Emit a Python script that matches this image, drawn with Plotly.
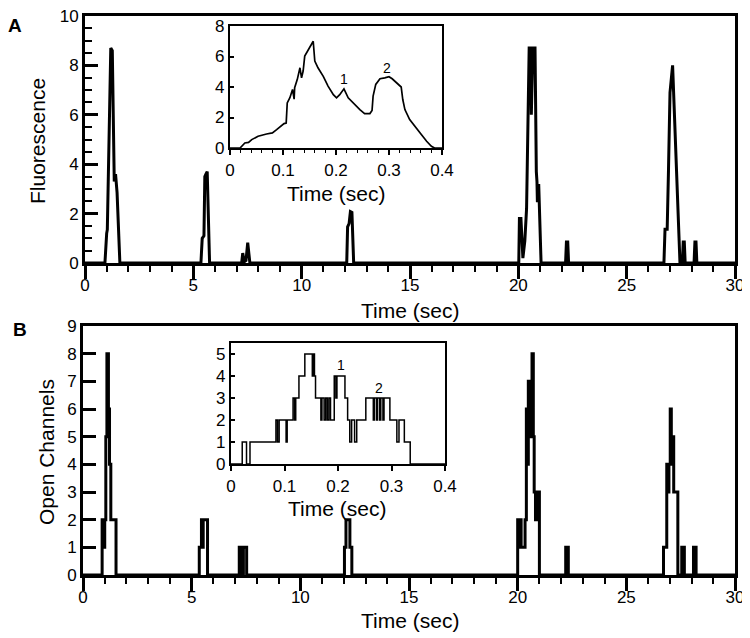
import plotly.graph_objects as go

# ---------------- data ----------------
# Panel A: fluorescence trace (time in s, fluorescence)
fluo_t = [0, 0.92, 1.0, 1.03, 1.19, 1.26, 1.35, 1.41, 1.48, 1.61,
          5.35, 5.41, 5.49, 5.53, 5.58, 5.64, 5.75,
          7.23, 7.28, 7.35, 7.43, 7.51, 7.61,
          12.08, 12.12, 12.19, 12.25, 12.32, 12.4,
          20.02, 20.05, 20.12, 20.21, 20.3, 20.38, 20.5, 20.58, 20.6, 20.67, 20.77,
          20.83, 20.86, 20.88, 20.94, 21.05,
          22.18, 22.22, 22.28, 22.32,
          26.72, 26.77, 26.87, 26.93, 27.0, 27.12, 27.46,
          27.57, 27.61, 27.66, 27.7,
          28.11, 28.15, 28.2, 28.24, 30]
fluo_v = [0, 0, 1.2, 1.35, 8.7, 8.6, 3.3, 3.6, 2.85, 0,
          0, 1.0, 1.1, 3.5, 3.6, 3.7, 0,
          0, 0.4, 0.05, 0.1, 0.82, 0,
          0, 1.46, 1.6, 2.08, 2.05, 0,
          0, 1.8, 1.8, 0.2, 0.9, 2.2, 8.7, 8.7, 6.0, 8.7, 8.7,
          3.7, 3.3, 2.46, 3.2, 0,
          0, 0.85, 0.85, 0,
          0, 1.37, 1.37, 3.73, 6.9, 8.0, 0,
          0, 0.85, 0.85, 0,
          0, 0.85, 0.85, 0, 0]

# Panel A inset: zoom of first event (time in s)
ins_a_t = [0, 0.019, 0.028, 0.035, 0.041, 0.053, 0.069, 0.080, 0.088, 0.097,
           0.102, 0.106, 0.108, 0.113, 0.118, 0.121, 0.122, 0.127, 0.132,
           0.135, 0.138, 0.141, 0.148, 0.154, 0.157, 0.160, 0.166, 0.176,
           0.185, 0.195, 0.201, 0.207, 0.215, 0.223, 0.232, 0.245, 0.254,
           0.264, 0.268, 0.270, 0.275, 0.283, 0.292, 0.300, 0.306, 0.314,
           0.323, 0.326, 0.330, 0.339, 0.352, 0.361, 0.371, 0.380, 0.386, 0.4]
ins_a_v = [0, 0, 0.33, 0.37, 0.55, 0.77, 0.92, 0.99, 1.2, 1.43,
           1.6, 1.64, 2.96, 3.3, 3.84, 3.2, 3.95, 4.5, 5.26,
           4.6, 5.05, 6.03, 6.47, 6.8, 7.0, 5.7, 5.26, 4.7,
           4.06, 3.5, 3.29, 3.5, 3.88, 3.29, 2.96, 2.52, 2.26,
           2.26, 2.46, 3.4, 4.17, 4.54, 4.6, 4.67, 4.54, 4.28,
           4.0, 3.18, 2.52, 1.86, 1.32, 0.88, 0.44, 0.11, 0, 0]

# Panel B: number of open channels (step trace)
chan_t = [0, 0.88, 0.95, 1.0, 1.05, 1.1, 1.17, 1.22, 1.28, 1.52,
          5.35, 5.45, 5.5, 5.53, 5.73,
          7.19, 7.32, 7.38, 7.53,
          12.03, 12.1, 12.28, 12.37,
          20.0, 20.1, 20.13, 20.16, 20.34, 20.4, 20.46, 20.49, 20.55, 20.6, 20.66,
          20.72, 20.76, 20.82, 20.86, 20.93, 20.96, 21.0,
          22.21, 22.33,
          26.71, 26.86, 26.92, 26.96, 27.02, 27.07, 27.1, 27.13, 27.18, 27.37,
          27.55, 27.67, 28.09, 28.21, 30]
chan_n = [0, 2, 1, 2, 5, 8, 6, 4, 2, 0,
          1, 2, 1, 2, 0,
          1, 0, 1, 0,
          1, 2, 1, 0,
          2, 1, 2, 1, 2, 6, 4, 7, 5, 7, 8,
          5, 3, 2, 3, 2, 3, 0,
          1, 0,
          1, 4, 3, 4, 6, 5, 4, 5, 3, 0,
          1, 0, 1, 0, 0]

# Panel B inset: zoom of first event (time in s)
ins_b_t = [0, 0.021, 0.029, 0.0355, 0.084, 0.087, 0.09, 0.103, 0.105, 0.116,
           0.119, 0.121, 0.127, 0.138, 0.152, 0.154, 0.156, 0.158, 0.168,
           0.17, 0.174, 0.177, 0.18, 0.183, 0.186, 0.193, 0.196, 0.198,
           0.213, 0.218, 0.222, 0.2255, 0.231, 0.235, 0.252, 0.266, 0.268,
           0.272, 0.274, 0.278, 0.28, 0.284, 0.286, 0.297, 0.31, 0.314,
           0.324, 0.335, 0.4]
ins_b_n = [0, 1, 0, 1, 2, 1, 2, 1, 2, 3,
           2, 3, 4, 5, 4, 5, 4, 3, 2,
           3, 2, 3, 2, 3, 2, 4, 3, 4,
           3, 2, 1, 2, 1, 2, 3, 2, 3,
           2, 3, 2, 3, 2, 3, 2, 1, 2,
           1, 0, 0]

# inset peak labels
ins_a_lab_t = [0.215, 0.297]
ins_a_lab_v = [4.5, 5.26]
ins_b_lab_t = [0.205, 0.277]
ins_b_lab_v = [4.5, 3.45]
peak_labels = ["1", "2"]

# ---------------- figure ----------------
FONT = "Liberation Sans, Arial, Helvetica, sans-serif"
OFF = 8                       # page body margin in the browser
W, H = 750 - OFF, 638 - OFF   # figure size so it fits in the window

def px_x(p):
    return (p - OFF) / W

def px_y(p):
    return 1 - (p - OFF) / H

fig = go.Figure()
fig.add_trace(go.Scatter(x=fluo_t, y=fluo_v, mode="lines",
                         line=dict(color="black", width=3), xaxis="x", yaxis="y"))
fig.add_trace(go.Scatter(x=ins_a_t, y=ins_a_v, mode="lines",
                         line=dict(color="black", width=1.7), xaxis="x2", yaxis="y2"))
fig.add_trace(go.Scatter(x=chan_t, y=chan_n, mode="lines", line_shape="hv",
                         line=dict(color="black", width=3), xaxis="x3", yaxis="y3"))
fig.add_trace(go.Scatter(x=ins_b_t, y=ins_b_n, mode="lines", line_shape="hv",
                         line=dict(color="black", width=1.5), xaxis="x4", yaxis="y4"))

tickfont = dict(family=FONT, size=17, color="black")

def main_x(domain, anchor):
    return dict(domain=domain, anchor=anchor, range=[0, 30], tickmode="linear", tick0=0, dtick=5,
                ticks="outside", ticklen=13, tickwidth=2.5, tickcolor="black",
                minor=dict(dtick=1, ticks="outside", ticklen=6, tickwidth=2, tickcolor="black"),
                showline=True, linewidth=3, linecolor="black", mirror=True, automargin=False,
                ticklabelstandoff=-8, ticklabeloverflow="allow",
                showgrid=False, zeroline=False, tickfont=tickfont, fixedrange=True)

def inset_x(domain, anchor, minor=True):
    d = dict(domain=domain, anchor=anchor, range=[0, 0.4], tickmode="linear", tick0=0, dtick=0.1,
             ticks="outside", ticklen=5, tickwidth=1.5, tickcolor="black", automargin=False,
             showline=True, linewidth=2.3, linecolor="black", mirror=True,
             showgrid=False, zeroline=False, tickfont=tickfont)
    if minor:
        d["minor"] = dict(dtick=0.02, ticks="outside", ticklen=3, tickwidth=1, tickcolor="black")
    return d

fig.update_layout(
    template="none",
    width=W, height=H, margin=dict(l=0, r=0, t=0, b=0, pad=0, autoexpand=False),
    paper_bgcolor="white", plot_bgcolor="white", showlegend=False,
    font=dict(family=FONT, color="black"),
    xaxis=main_x([px_x(85), px_x(735)], "y"),
    yaxis=dict(domain=[px_y(263), px_y(16)], anchor="x", range=[0, 10], tickmode="linear",
               tick0=0, dtick=2, ticks="inside", ticklen=13, tickwidth=2.5, tickcolor="black",
               minor=dict(dtick=0.5, ticks="inside", ticklen=7, tickwidth=2, tickcolor="black"),
               showline=True, linewidth=3, linecolor="black", mirror=True, automargin=False,
               ticklabeloverflow="allow",
               showgrid=False, zeroline=False, tickfont=tickfont),
    xaxis2=inset_x([px_x(230), px_x(442)], "y2"),
    yaxis2=dict(domain=[px_y(148), px_y(26)], anchor="x2", range=[0, 8], tickmode="linear",
                tick0=0, dtick=2, ticks="inside", ticklen=4, tickwidth=1.5, tickcolor="black",
                showline=True, linewidth=2.3, linecolor="black", mirror=True, automargin=False,
                showgrid=False, zeroline=False, tickfont=tickfont),
    xaxis3=main_x([px_x(83), px_x(735)], "y3"),
    yaxis3=dict(domain=[px_y(575), px_y(326)], anchor="x3", range=[0, 9], tickmode="linear",
                tick0=0, dtick=1, ticks="inside", ticklen=13, tickwidth=2.5, tickcolor="black",
                showline=True, linewidth=3, linecolor="black", mirror=True, automargin=False,
                ticklabeloverflow="allow",
                showgrid=False, zeroline=False, tickfont=tickfont),
    xaxis4=inset_x([px_x(231), px_x(445)], "y4", minor=False),
    yaxis4=dict(domain=[px_y(464), px_y(343)], anchor="x4", range=[0, 5.5], tickmode="linear",
                tick0=0, dtick=1, ticks="inside", ticklen=4, tickwidth=1.5, tickcolor="black",
                showline=True, linewidth=2.3, linecolor="black", mirror=True, automargin=False,
                showgrid=False, zeroline=False, tickfont=tickfont),
)

annots = []
titlefont = dict(family=FONT, size=21, color="black")

def paper_text(text, x, y, font, angle=0):
    return dict(text=text, x=px_x(x), y=px_y(y), xref="paper", yref="paper",
                showarrow=False, font=font, textangle=angle,
                xanchor="center", yanchor="middle")

# axis titles
annots.append(paper_text("Time (sec)", 410, 310, titlefont))
annots.append(paper_text("Fluorescence", 37, 141, titlefont, -90))
annots.append(paper_text("Time (sec)", 410, 620, titlefont))
annots.append(paper_text("Open Channels", 46, 452, titlefont, -90))
annots.append(paper_text("Time (sec)", 336, 193, titlefont))
annots.append(paper_text("Time (sec)", 337, 508, titlefont))
# panel letters
letterfont = dict(family=FONT, size=19, color="black")
annots.append(paper_text("<b>A</b>", 15, 25, letterfont))
annots.append(paper_text("<b>B</b>", 20, 329, letterfont))
# inset peak labels
for lab, t, v in zip(peak_labels, ins_a_lab_t, ins_a_lab_v):
    annots.append(dict(text=lab, x=t, y=v, xref="x2", yref="y2", showarrow=False,
                       xanchor="center", yanchor="middle",
                       font=dict(family=FONT, size=14, color="black")))
for lab, t, v in zip(peak_labels, ins_b_lab_t, ins_b_lab_v):
    annots.append(dict(text=lab, x=t, y=v, xref="x4", yref="y4", showarrow=False,
                       xanchor="center", yanchor="middle",
                       font=dict(family=FONT, size=14, color="black")))
fig.update_layout(annotations=annots)

fig.write_html("out.html")
